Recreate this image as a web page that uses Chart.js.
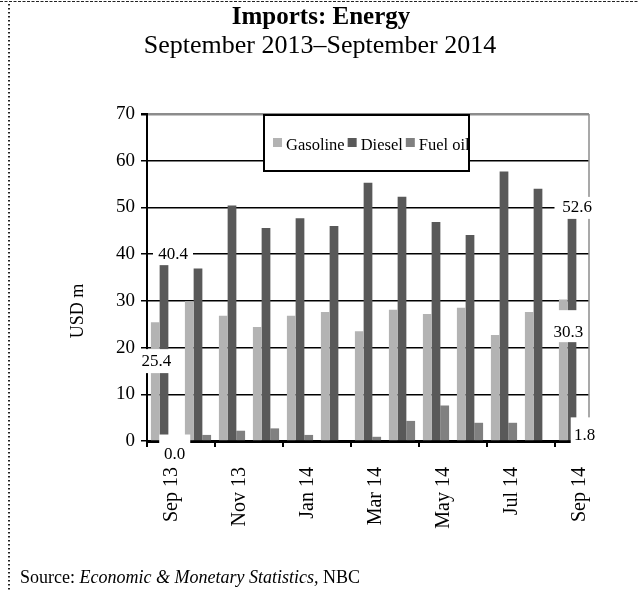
<!DOCTYPE html>
<html>
<head>
<meta charset="utf-8">
<script src="https://cdn.jsdelivr.net/npm/chart.js@4/dist/chart.umd.min.js"></script>
<style>
    body { margin: 0; background: #fff; }
    canvas { display: block; }
</style>
</head>
<body>
<canvas id="energyChart" width="639" height="590"></canvas>
<script>
// months on the x axis
const months = ['Sep 13', 'Oct 13', 'Nov 13', 'Dec 13', 'Jan 14', 'Feb 14', 'Mar 14',
    'Apr 14', 'May 14', 'Jun 14', 'Jul 14', 'Aug 14', 'Sep 14'];

// imports in USD m
const gasoline = [25.4, 29.9, 26.8, 24.4, 26.8, 27.6, 23.5, 28.1, 27.2, 28.5, 22.7, 27.6, 30.3];
const diesel = [37.8, 36.9, 50.4, 45.6, 47.7, 46.0, 55.3, 52.3, 46.9, 44.1, 57.7, 54.0, 48.2];
const fuelOil = [0.0, 1.3, 2.2, 2.7, 1.3, 0.0, 0.9, 4.3, 7.6, 3.9, 3.9, 0.0, 1.8];

// data labels printed on the first and the last month
const firstLabels = ['25.4', '40.4', '0.0'];
const lastLabels = ['30.3', '52.6', '1.8'];

const serif = "'Liberation Serif', 'Times New Roman', serif";
Chart.defaults.font.family = serif;
Chart.defaults.color = '#000';

// where each label box sits (dx from bar centre, v = level on the y scale)
const labelSpots = [
    { ds: 0, i: 0, text: firstLabels[0], dx: 1, v: 17.1, w: 32, h: 24, by: 0 },
    { ds: 1, i: 0, text: firstLabels[1], dx: 9, v: 40.0, w: 40, h: 22, by: 0 },
    { ds: 2, i: 0, text: firstLabels[2], dx: 2, v: -3.0, w: 31, h: 33, by: -4 },
    { ds: 0, i: 12, text: lastLabels[0], dx: 5, v: 23.3, w: 37, h: 32, by: -6 },
    { ds: 1, i: 12, text: lastLabels[1], dx: 5, v: 49.9, w: 45, h: 22, by: 0 },
    { ds: 2, i: 12, text: lastLabels[2], dx: 4, v: 1.1, w: 28, h: 37, by: 0 }
];

// titles, frame, axis title and source note
const framePlugin = {
    id: 'frame',
    beforeDraw (chart) {
        const ctx = chart.ctx;
        ctx.save();
        ctx.fillStyle = '#fff';
        ctx.fillRect(0, 0, chart.width, chart.height);

        // dashed top edge and dotted left edge
        ctx.strokeStyle = '#222';
        ctx.lineWidth = 1;
        ctx.setLineDash([3, 1.5]);
        ctx.beginPath();
        ctx.moveTo(0, 1.5);
        ctx.lineTo(chart.width, 1.5);
        ctx.stroke();
        ctx.setLineDash([1.5, 2.5]);
        ctx.lineWidth = 2;
        ctx.beginPath();
        ctx.moveTo(9, 4);
        ctx.lineTo(9, chart.height);
        ctx.stroke();
        ctx.setLineDash([]);

        ctx.fillStyle = '#000';
        ctx.textAlign = 'center';
        ctx.textBaseline = 'middle';
        ctx.font = 'bold 25px ' + serif;
        ctx.fillText('Imports: Energy', 321, 18);
        ctx.font = '26px ' + serif;
        ctx.fillText('September 2013\u2013September 2014', 320, 46);

        // y axis title
        ctx.save();
        ctx.translate(78, 311);
        ctx.rotate(-Math.PI / 2);
        ctx.font = '18px ' + serif;
        ctx.fillText('USD m', 0, 0);
        ctx.restore();

        // source line, mixed roman and italic
        ctx.textAlign = 'left';
        ctx.textBaseline = 'alphabetic';
        let x = 20;
        const parts = [['Source: ', ''], ['Economic & Monetary Statistics,', 'italic '], [' NBC', '']];
        parts.forEach(function (p) {
            ctx.font = p[1] + '18px ' + serif;
            ctx.fillText(p[0], x, 583);
            x += ctx.measureText(p[0]).width;
        });
        ctx.restore();
    },
    afterDraw (chart) {
        const ctx = chart.ctx;
        const area = chart.chartArea;
        const yScale = chart.scales.y;
        ctx.save();

        // thin grey right edge of the plot
        ctx.strokeStyle = '#8c8c8c';
        ctx.lineWidth = 1.5;
        ctx.beginPath();
        ctx.moveTo(area.right, area.top);
        ctx.lineTo(area.right, area.bottom);
        ctx.stroke();

        // data labels on white boxes
        ctx.font = '17px ' + serif;
        ctx.textAlign = 'center';
        ctx.textBaseline = 'middle';
        labelSpots.forEach(function (s) {
            const bar = chart.getDatasetMeta(s.ds).data[s.i];
            const cx = bar.x + s.dx;
            const cy = yScale.getPixelForValue(s.v);
            ctx.fillStyle = '#fff';
            ctx.fillRect(cx - s.w / 2, cy - s.h / 2 + s.by, s.w, s.h);
            ctx.fillStyle = '#000';
            ctx.fillText(s.text, cx, cy);
        });

        // legend box inside the plot
        const box = { left: 264, top: area.top + 1, right: 469, bottom: 171 };
        ctx.fillStyle = '#fff';
        ctx.fillRect(box.left, box.top, box.right - box.left, box.bottom - box.top);
        ctx.strokeStyle = '#000';
        ctx.lineWidth = 2;
        ctx.strokeRect(box.left, box.top, box.right - box.left, box.bottom - box.top);

        ctx.beginPath();
        ctx.rect(box.left + 1, box.top + 1, box.right - box.left - 2, box.bottom - box.top - 2);
        ctx.clip();
        ctx.font = '16.5px ' + serif;
        ctx.textAlign = 'left';
        ctx.textBaseline = 'alphabetic';
        let x = box.left + 9;
        chart.data.datasets.forEach(function (d) {
            ctx.fillStyle = d.backgroundColor;
            ctx.fillRect(x, 138, 9, 9);
            x += 13;
            ctx.fillStyle = '#000';
            ctx.fillText(d.label, x, 150);
            x += ctx.measureText(d.label).width + 3;
        });
        ctx.restore();
    }
};

const config = {
    type: 'bar',
    data: {
        labels: months,
        datasets: [
            { label: 'Gasoline', data: gasoline, backgroundColor: '#b3b3b3' },
            { label: 'Diesel', data: diesel, backgroundColor: '#595959' },
            { label: 'Fuel oil', data: fuelOil, backgroundColor: '#808080' }
        ]
    },
    options: {
        responsive: false,
        animation: false,
        datasets: {
            bar: { categoryPercentage: 0.77, barPercentage: 1.0 }
        },
        layout: { padding: { top: 114, right: 50, left: 0, bottom: 0 } },
        plugins: {
            legend: { display: false },
            title: { display: false },
            tooltip: { enabled: false }
        },
        scales: {
            x: {
                grid: {
                    drawOnChartArea: false,
                    offset: true,
                    tickLength: 6,
                    lineWidth: 2,
                    // a tick mark every second month
                    color: function (c) {
                        return (c.index !== undefined && c.index % 2 === 0 && c.index <= 12) ? '#000' : 'rgba(0,0,0,0)';
                    }
                },
                border: { color: '#000', width: 3 },
                ticks: {
                    autoSkip: false,
                    maxRotation: 90,
                    minRotation: 90,
                    padding: 20,
                    labelOffset: 8,
                    font: { size: 20 },
                    callback: function (value, index) {
                        return index % 2 === 0 ? this.getLabelForValue(value) : '';
                    }
                },
                afterFit: function (scale) { scale.height = 149; }
            },
            y: {
                min: 0,
                max: 70,
                ticks: { stepSize: 10, padding: 6, font: { size: 19 } },
                grid: {
                    color: function (c) {
                        return c.tick && c.tick.value === 70 ? '#8c8c8c' : '#000';
                    },
                    lineWidth: function (c) {
                        return c.tick && c.tick.value === 70 ? 2.5 : 1.5;
                    },
                    tickLength: 6,
                    tickColor: '#000'
                },
                border: { color: '#000', width: 2 },
                afterFit: function (scale) { scale.width = 147; }
            }
        }
    },
    plugins: [framePlugin]
};

// draw the chart
const myChart = new Chart(
    document.getElementById('energyChart'),
    config
);
</script>
</body>
</html>
